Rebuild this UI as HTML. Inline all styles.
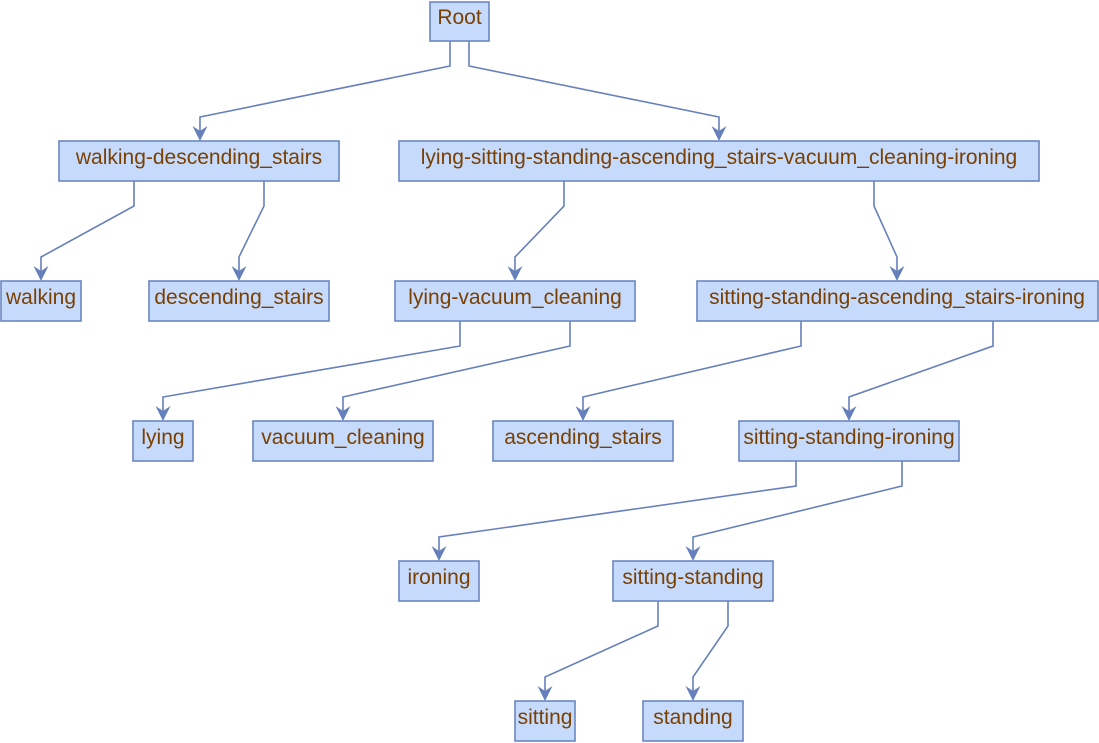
<!DOCTYPE html>
<html><head><style>html,body{margin:0;padding:0;background:#fff}svg{display:block}</style></head>
<body>
<svg width="1099" height="743" xmlns="http://www.w3.org/2000/svg" font-family="Liberation Sans, sans-serif" font-size="21">
<defs><path id="ar" d="M-7.5,-15 L0,-10 L7.5,-15 L0,0 Z" fill="#6680bb"/></defs>
<g fill="none" stroke="#6680bb" stroke-width="1.6">
<path d="M450,41 V66 L200,117 V131"/>
<path d="M469,41 V66 L719,117 V131"/>
<path d="M134,181 V206 L41,257 V271"/>
<path d="M264,181 V206 L239,257 V271"/>
<path d="M564,181 V206 L515,257 V271"/>
<path d="M874,181 V206 L897,257 V271"/>
<path d="M460,321 V346 L163,397 V411"/>
<path d="M570,321 V346 L343,397 V411"/>
<path d="M801,321 V346 L583,397 V411"/>
<path d="M993,321 V346 L849,397 V411"/>
<path d="M796,461 V486 L439,537 V551"/>
<path d="M902,461 V486 L693,537 V551"/>
<path d="M658,601 V626 L545,677 V691"/>
<path d="M728,601 V626 L693,677 V691"/>
</g>
<use href="#ar" x="200" y="141"/><use href="#ar" x="719" y="141"/>
<use href="#ar" x="41" y="281"/><use href="#ar" x="239" y="281"/>
<use href="#ar" x="515" y="281"/><use href="#ar" x="897" y="281"/>
<use href="#ar" x="163" y="421"/><use href="#ar" x="343" y="421"/>
<use href="#ar" x="583" y="421"/><use href="#ar" x="849" y="421"/>
<use href="#ar" x="439" y="561"/><use href="#ar" x="693" y="561"/>
<use href="#ar" x="545" y="701"/><use href="#ar" x="693" y="701"/>
<g fill="#c6dafc" stroke="#6b87c0" stroke-width="1.6">
<rect x="430" y="2" width="59" height="39"/>
<rect x="59" y="141" width="280" height="40"/>
<rect x="399" y="141" width="640" height="40"/>
<rect x="1" y="281" width="80" height="40"/>
<rect x="149" y="281" width="180" height="40"/>
<rect x="395" y="281" width="240" height="40"/>
<rect x="697" y="281" width="401" height="40"/>
<rect x="133" y="421" width="60" height="40"/>
<rect x="253" y="421" width="180" height="40"/>
<rect x="493" y="421" width="180" height="40"/>
<rect x="739" y="421" width="220" height="40"/>
<rect x="399" y="561" width="80" height="40"/>
<rect x="613" y="561" width="160" height="40"/>
<rect x="515" y="701" width="60" height="40"/>
<rect x="643" y="701" width="100" height="40"/>
</g>
<g fill="#7a4000" text-anchor="middle">
<text x="459.5" y="24">Root</text>
<text x="199" y="164">walking-descending_stairs</text>
<text x="719" y="164">lying-sitting-standing-ascending_stairs-vacuum_cleaning-ironing</text>
<text x="41" y="304">walking</text>
<text x="239" y="304">descending_stairs</text>
<text x="515" y="304">lying-vacuum_cleaning</text>
<text x="897" y="304">sitting-standing-ascending_stairs-ironing</text>
<text x="163" y="444">lying</text>
<text x="343" y="444">vacuum_cleaning</text>
<text x="583" y="444">ascending_stairs</text>
<text x="849" y="444">sitting-standing-ironing</text>
<text x="439" y="584">ironing</text>
<text x="693" y="584">sitting-standing</text>
<text x="545" y="724">sitting</text>
<text x="693" y="724">standing</text>
</g>
</svg>
</body></html>
